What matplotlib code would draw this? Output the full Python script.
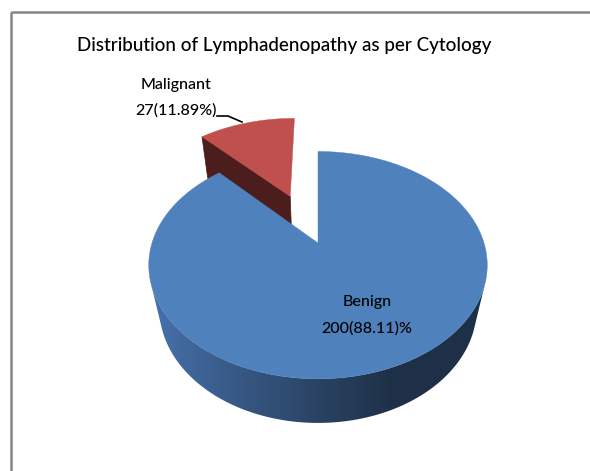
import numpy as np
import matplotlib.pyplot as plt
from matplotlib.patches import Polygon, Rectangle

categories = ["Benign", "Malignant"]
counts = [200, 27]
percents = [88.11, 11.89]
label_texts = ["Benign\n200(88.11)%", "Malignant\n27(11.89%)"]
title = "Distribution of Lymphadenopathy as per Cytology"

top_colors = ["#4F81BD", "#C0504D"]
cut_colors = ["#22364F", "#4C1D1D"]

# view / projection settings (pixel space)
cx, cy = 318, 243
S = 166.0
elev = np.radians(41.2)
D = 3.86
h = 0.377
explode = [0.0, 0.5]

sn, cs = np.sin(elev), np.cos(elev)


def proj(X, Y, Z):
    X, Y, Z = np.asarray(X, float), np.asarray(Y, float), np.asarray(Z, float)
    yv = Y * sn + Z * cs
    depth = D + Y * cs - Z * sn
    return cx + S * D * X / depth, cy - S * D * yv / depth


fig = plt.figure(figsize=(5.9, 4.71), dpi=100)
ax = fig.add_axes([0, 0, 1, 1])
ax.set_xlim(0, 590)
ax.set_ylim(471, 0)
ax.axis("off")

# chart border
ax.add_patch(Rectangle((11, 12), 600, 480, fill=False, edgecolor="#868686", lw=1.8))

total = sum(counts)
# malignant sits counterclockwise from 12 o'clock, benign takes the rest
red_sweep = 360.0 * counts[1] / total
angles = {1: (90.0, 90.0 + red_sweep), 0: (90.0 + red_sweep, 450.0)}

# side of the pie that faces the camera: sin(t) < -1/(D*cos(elev))
lim = np.degrees(np.arcsin(-1 / (D * cs)))
side_t = np.radians(np.linspace(180 - lim, 360 + lim, 300))


def slice_offset(i):
    a0, a1 = angles[i]
    mid = np.radians((a0 + a1) / 2)
    return explode[i] * np.cos(mid), explode[i] * np.sin(mid)


# benign side with left-to-right shading
ox, oy = slice_offset(0)
tu, tw = proj(ox + np.cos(side_t), oy + np.sin(side_t), np.zeros_like(side_t))
bu, bw = proj(ox + np.cos(side_t), oy + np.sin(side_t), np.full_like(side_t, -h))
side = Polygon(np.c_[np.r_[tu, bu[::-1]], np.r_[tw, bw[::-1]]], closed=True,
               facecolor="none", edgecolor="none")
ax.add_patch(side)
x0, x1 = np.r_[tu, bu].min(), np.r_[tu, bu].max()
y0, y1 = np.r_[tw, bw].min(), np.r_[tw, bw].max()
g = np.linspace(0, 1, 256)
light = np.array([0.28, 0.45, 0.68])
dark = np.array([0.12, 0.19, 0.28])
f = np.clip(g / 0.72, 0, 1) ** 0.9
grad = light[None, :] * (1 - f[:, None]) + dark[None, :] * f[:, None]
img = ax.imshow(grad[None, :, :], extent=[x0, x1, y1 + 1, y0 - 1],
                aspect="auto", interpolation="bilinear", zorder=5)
img.set_clip_path(side)
ax.set_xlim(0, 590)
ax.set_ylim(471, 0)

# malignant slice (exploded): cut face then top
ox, oy = slice_offset(1)
ta = np.radians(angles[1][1])
u, w = proj([ox, ox + np.cos(ta), ox + np.cos(ta), ox],
            [oy, oy + np.sin(ta), oy + np.sin(ta), oy], [0, 0, -h, -h])
ax.add_patch(Polygon(np.c_[u, w], closed=True, facecolor=cut_colors[1],
                     edgecolor=cut_colors[1], lw=0.5, zorder=2))

for i, z in ((1, 3), (0, 7)):
    ox, oy = slice_offset(i)
    t = np.radians(np.linspace(angles[i][0], angles[i][1], 300))
    u, w = proj(np.r_[ox, ox + np.cos(t)], np.r_[oy, oy + np.sin(t)],
                np.zeros(len(t) + 1))
    ax.add_patch(Polygon(np.c_[u, w], closed=True, facecolor=top_colors[i],
                         edgecolor=top_colors[i], lw=0.3, zorder=z))

fnt = ["Lato", "DejaVu Sans"]
ax.text(284.5, 46, title, ha="center", va="center", fontsize=13.6,
        family=fnt, weight="medium", color="black")

label_pos = [(367, 302, 328), (176, 85, 110)]
for txt, (lx, ly1, ly2) in zip(label_texts, label_pos):
    first, second = txt.split("\n")
    ax.text(lx, ly1, first, ha="center", va="center", fontsize=11.6,
            family=fnt, weight="medium", color="black", zorder=20)
    ax.text(lx, ly2, second, ha="center", va="center", fontsize=11.6,
            family=fnt, weight="medium", color="black", zorder=20)
ax.plot([217, 228, 242], [116, 116, 122], color="black", lw=1.2,
        solid_joinstyle="miter", zorder=20)

fig.savefig("out.png", dpi=100)
